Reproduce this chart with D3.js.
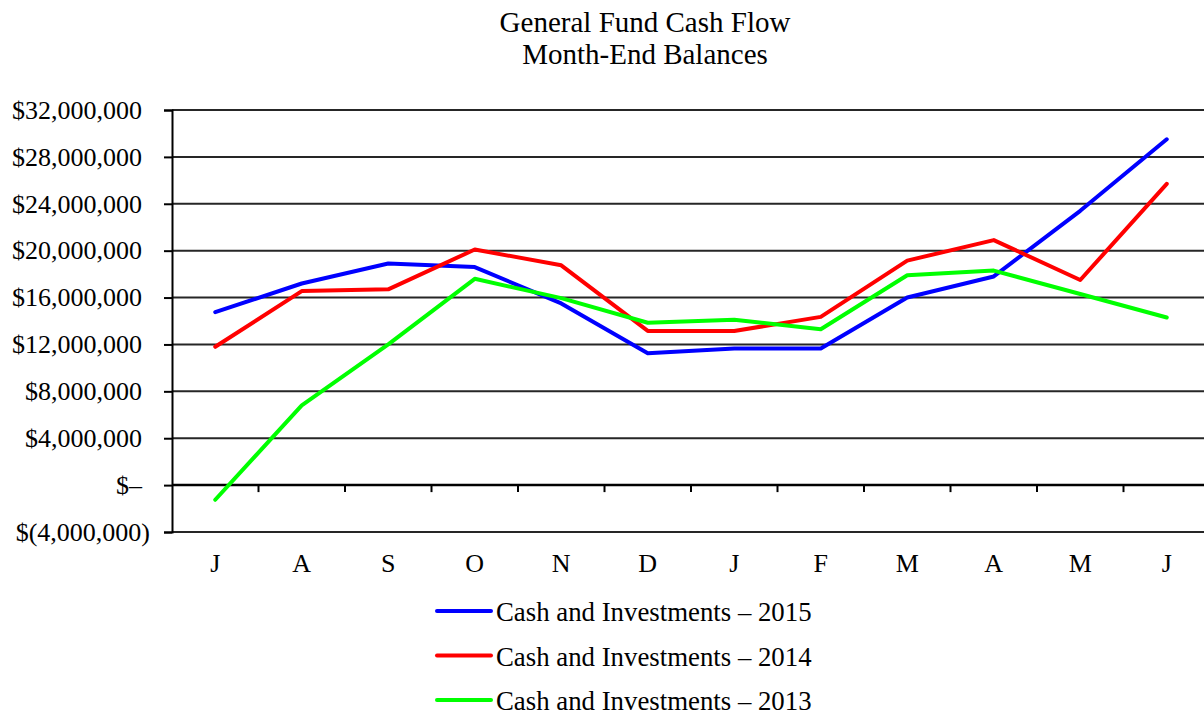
<!DOCTYPE html>
<html>
<head>
<meta charset="utf-8">
<script src="https://cdn.jsdelivr.net/npm/d3@7"></script>
<style>
  body { margin: 0; background: #fff; }
  svg text { font-family: "Liberation Serif", "Times New Roman", serif; fill: #000; }
</style>
</head>
<body>
<div id="chart"></div>
<script>
'use strict';

// Fiscal year months, July through June
const months = ['J', 'A', 'S', 'O', 'N', 'D', 'J', 'F', 'M', 'A', 'M', 'J'];

// Month-end balances, millions of dollars
const cash2015 = [14.75, 17.2, 18.9, 18.6, 15.5, 11.25, 11.65, 11.65, 16.0, 17.8, 23.4, 29.5];
const cash2014 = [11.8, 16.55, 16.7, 20.1, 18.75, 13.15, 13.15, 14.35, 19.15, 20.9, 17.5, 25.7];
const cash2013 = [-1.25, 6.8, 12.0, 17.6, 15.95, 13.85, 14.1, 13.3, 17.9, 18.3, 16.3, 14.3];

const seriesNames = [
  'Cash and Investments \u2013 2015',
  'Cash and Investments \u2013 2014',
  'Cash and Investments \u2013 2013'
];
const seriesColors = ['#0000ff', '#ff0000', '#00ff00'];

const titleLines = ['General Fund Cash Flow', 'Month-End Balances'];

const yTicks = [-4, 0, 4, 8, 12, 16, 20, 24, 28, 32];

const width = 1204;
const height = 713;
const margin = {top: 110, left: 172, bottom: 181, right: -6};

const svg = d3.select('#chart')
  .append('svg')
  .attr('width', width)
  .attr('height', height);

const x = d3.scaleBand()
  .domain(d3.range(months.length))
  .range([margin.left, width - margin.right]);

const y = d3.scaleLinear()
  .domain([-4, 32])
  .range([height - margin.bottom, margin.top]);

// Accounting style dollars, values in millions
const fmtDollar = v => {
  if (v === 0) return '$\u2013';
  const s = d3.format(',')(Math.abs(v) * 1e6);
  return v < 0 ? `$(${s})` : `$${s}`;
};

// Horizontal gridlines
svg.append('g')
  .selectAll('line')
  .data(yTicks)
  .join('line')
  .attr('x1', margin.left)
  .attr('x2', width)
  .attr('y1', d => y(d))
  .attr('y2', d => y(d))
  .attr('stroke', d => d === 0 ? '#000' : '#262626')
  .attr('stroke-width', d => d === 0 ? 2.5 : 2);

// Value axis
const yAxis = svg.append('g')
  .attr('transform', `translate(${margin.left},0)`)
  .call(d3.axisLeft(y).tickValues(yTicks).tickFormat(fmtDollar).tickSize(8).tickPadding(22));
yAxis.select('.domain').attr('stroke', '#000').attr('stroke-width', 2);
yAxis.selectAll('.tick line').attr('stroke', '#000').attr('stroke-width', 2);
yAxis.selectAll('text')
  .attr('font-size', '26px')
  .attr('fill', '#000')
  .attr('dx', d => d < 0 ? 8 : 0);

// Category ticks on the zero line, at boundaries between months
svg.append('g')
  .selectAll('line')
  .data(d3.range(1, months.length))
  .join('line')
  .attr('x1', d => x(d))
  .attr('x2', d => x(d))
  .attr('y1', y(0))
  .attr('y2', y(0) + 7)
  .attr('stroke', '#000')
  .attr('stroke-width', 2);

// Month labels
svg.append('g')
  .selectAll('text')
  .data(months)
  .join('text')
  .attr('x', (d, i) => x(i) + x.bandwidth() / 2)
  .attr('y', 572)
  .attr('text-anchor', 'middle')
  .attr('font-size', '26px')
  .text(d => d);

// Series lines
const line = d3.line()
  .x((d, i) => x(i) + x.bandwidth() / 2)
  .y(d => y(d));

[cash2015, cash2014, cash2013].forEach((values, k) => {
  svg.append('path')
    .datum(values)
    .attr('d', line)
    .attr('fill', 'none')
    .attr('stroke', seriesColors[k])
    .attr('stroke-width', 4)
    .attr('stroke-linejoin', 'round')
    .attr('stroke-linecap', 'round');
});

// Title
svg.append('g')
  .selectAll('text')
  .data(titleLines)
  .join('text')
  .attr('x', 645)
  .attr('y', (d, i) => 32 + i * 32)
  .attr('text-anchor', 'middle')
  .attr('font-size', '29px')
  .text(d => d);

// Legend
const legend = svg.append('g')
  .selectAll('g')
  .data(seriesNames)
  .join('g')
  .attr('transform', (d, i) => `translate(437,${611 + i * 44.5})`);

legend.append('line')
  .attr('x1', 0)
  .attr('x2', 54)
  .attr('stroke', (d, i) => seriesColors[i])
  .attr('stroke-width', 4)
  .attr('stroke-linecap', 'round');

legend.append('text')
  .attr('x', 59)
  .attr('y', 10)
  .attr('font-size', '26.8px')
  .text(d => d);
</script>
</body>
</html>
